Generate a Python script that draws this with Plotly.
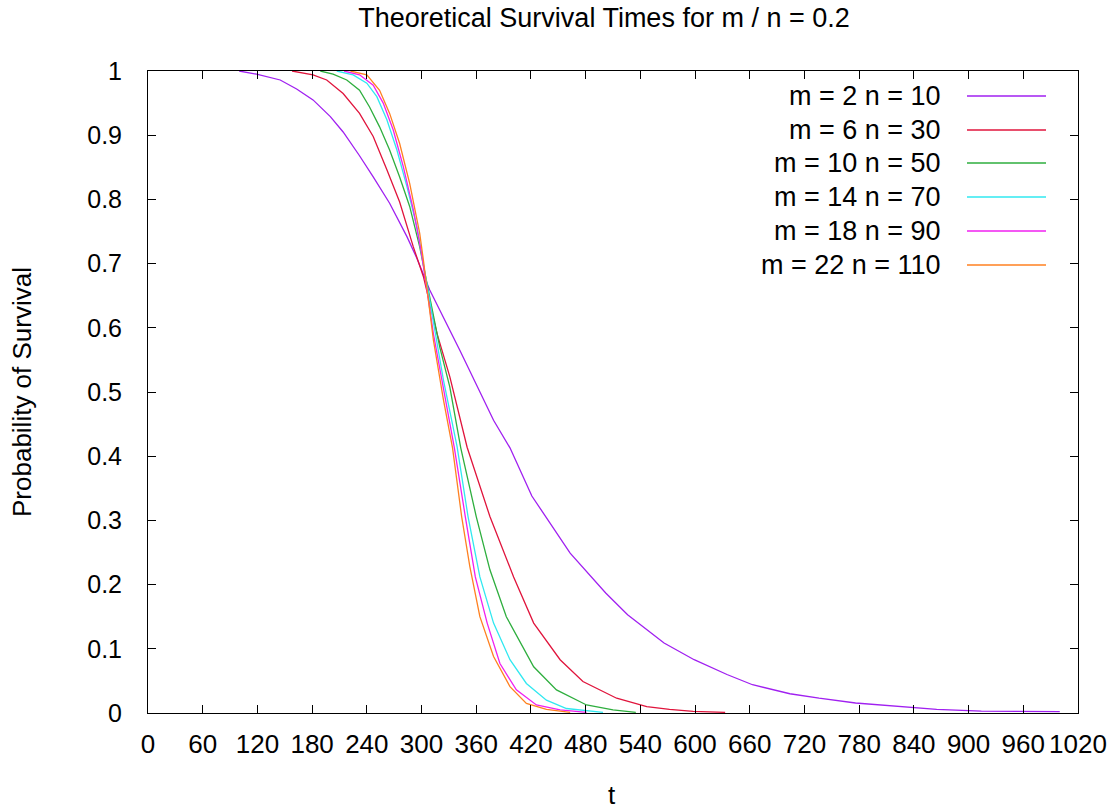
import plotly.graph_objects as go

# ---- data ----
labels = ["m = 2 n = 10", "m = 6 n = 30", "m = 10 n = 50",
          "m = 14 n = 70", "m = 18 n = 90", "m = 22 n = 110"]

t_m2 = [100, 119, 145, 163, 181, 200, 214, 232, 247, 265, 284, 295, 309, 342, 379, 397,
        421, 463, 502, 526, 566, 599, 635, 663, 704, 736, 776, 829, 865, 914, 1000]
s_m2 = [1.0, 0.995, 0.986, 0.972, 0.955, 0.929, 0.905, 0.868, 0.835, 0.794, 0.742, 0.708,
        0.659, 0.565, 0.456, 0.413, 0.338, 0.249, 0.187, 0.153, 0.109, 0.083, 0.060, 0.044,
        0.030, 0.023, 0.0156, 0.0094, 0.0057, 0.003, 0.002]

t_m6 = [158, 181, 196, 214, 232, 247, 262, 276, 291, 302, 317, 331, 350, 375, 401, 423,
        452, 477, 514, 547, 572, 598, 633]
s_m6 = [1.0, 0.994, 0.986, 0.965, 0.934, 0.898, 0.846, 0.796, 0.726, 0.680, 0.591, 0.524,
        0.414, 0.306, 0.212, 0.140, 0.083, 0.049, 0.023, 0.0099, 0.0057, 0.0026, 0.001]

t_m10 = [189, 203, 218, 232, 243, 254, 265, 276, 287, 298, 306, 320, 331, 343, 360, 375,
         393, 423, 448, 481, 510, 535]
s_m10 = [1.0, 0.995, 0.986, 0.970, 0.944, 0.913, 0.877, 0.835, 0.789, 0.726, 0.669, 0.570,
         0.508, 0.413, 0.306, 0.223, 0.150, 0.072, 0.036, 0.0125, 0.0047, 0.001]

t_m14 = [207, 225, 240, 251, 262, 273, 284, 295, 302, 313, 324, 339, 351, 364, 379, 397,
         415, 437, 459, 499]
s_m14 = [1.0, 0.994, 0.981, 0.960, 0.924, 0.877, 0.820, 0.757, 0.700, 0.607, 0.519, 0.415,
         0.306, 0.212, 0.140, 0.083, 0.046, 0.020, 0.007, 0.001]

t_m18 = [215, 232, 247, 258, 269, 280, 291, 300, 313, 324, 336, 348, 359, 372, 386, 404,
         426, 452, 481]
s_m18 = [1.0, 0.994, 0.978, 0.950, 0.908, 0.851, 0.784, 0.716, 0.591, 0.503, 0.413, 0.306,
         0.212, 0.140, 0.077, 0.036, 0.0125, 0.005, 0.001]

t_m22 = [222, 240, 254, 265, 276, 287, 298, 302, 313, 324, 334, 344, 353, 364, 379, 397,
         415, 437, 463]
s_m22 = [1.0, 0.994, 0.970, 0.934, 0.887, 0.825, 0.747, 0.706, 0.581, 0.488, 0.413, 0.306,
         0.228, 0.150, 0.088, 0.041, 0.015, 0.0057, 0.001]

x_ticks = list(range(0, 1021, 60))
y_ticks = [0, 0.1, 0.2, 0.3, 0.4, 0.5, 0.6, 0.7, 0.8, 0.9, 1]
y_tick_text = ["0", "0.1", "0.2", "0.3", "0.4", "0.5", "0.6", "0.7", "0.8", "0.9", "1"]

colors = ["#a020f0", "#e0143c", "#2eae3e", "#30e8f0", "#f020f0", "#ff8020"]

series = [(t_m2, s_m2), (t_m6, s_m6), (t_m10, s_m10),
          (t_m14, s_m14), (t_m18, s_m18), (t_m22, s_m22)]

FONT = "Liberation Sans, Arial, sans-serif"

fig = go.Figure()
for (tx, sy), name, c in zip(series, labels, colors):
    fig.add_trace(go.Scatter(x=tx, y=sy, mode="lines", name=name,
                             line=dict(color=c, width=1.3), showlegend=False))

# custom gnuplot-style legend (text right, sample line to the right)
L, R, T, B = 148, 1078, 71, 713
W, H = R - L, B - T
row_y = [96, 130, 163, 197, 231, 265]
for name, c, ry in zip(labels, colors, row_y):
    py = (B - ry) / H
    fig.add_annotation(x=(943 - L) / W, y=py, xref="paper", yref="paper",
                       text=name, showarrow=False, xanchor="right", yanchor="middle",
                       font=dict(family=FONT, size=27, color="#000"))
    fig.add_shape(type="line", xref="paper", yref="paper",
                  x0=(967 - L) / W, x1=(1046 - L) / W, y0=py, y1=py,
                  line=dict(color=c, width=1.3))

axis_common = dict(showline=True, linecolor="black", linewidth=1, mirror="ticks",
                   ticks="inside", ticklen=8, tickcolor="black", tickwidth=1,
                   showgrid=False, zeroline=False, tickangle=0)

fig.update_xaxes(range=[0, 1020], tickvals=x_ticks, ticktext=[str(v) for v in x_ticks],
                 ticklabelstandoff=8, tickfont=dict(family=FONT, size=26, color="#000"),
                 **axis_common)
fig.update_yaxes(range=[0, 1], tickvals=y_ticks, ticktext=y_tick_text,
                 ticklabelstandoff=20, tickfont=dict(family=FONT, size=25, color="#000"),
                 **axis_common)

fig.add_annotation(x=(612 - L) / W, y=(B - 795) / H, xref="paper", yref="paper",
                   text="t", showarrow=False, xanchor="center", yanchor="middle",
                   font=dict(family=FONT, size=26, color="#000"))
fig.add_annotation(x=(22 - L) / W, y=(B - 392) / H, xref="paper", yref="paper",
                   text="Probability of Survival", showarrow=False, textangle=-90,
                   xanchor="center", yanchor="middle",
                   font=dict(family=FONT, size=26, color="#000"))

fig.update_layout(
    width=1118, height=812,
    margin=dict(l=L, r=1118 - R, t=T, b=812 - B),
    paper_bgcolor="white", plot_bgcolor="white",
    title=dict(text="Theoretical Survival Times for m / n = 0.2",
               x=604 / 1118, xanchor="center", y=1 - 18 / 812, yanchor="middle",
               yref="container", xref="container",
               font=dict(family=FONT, size=27, color="#000")),
)

fig.write_html("out.html")
